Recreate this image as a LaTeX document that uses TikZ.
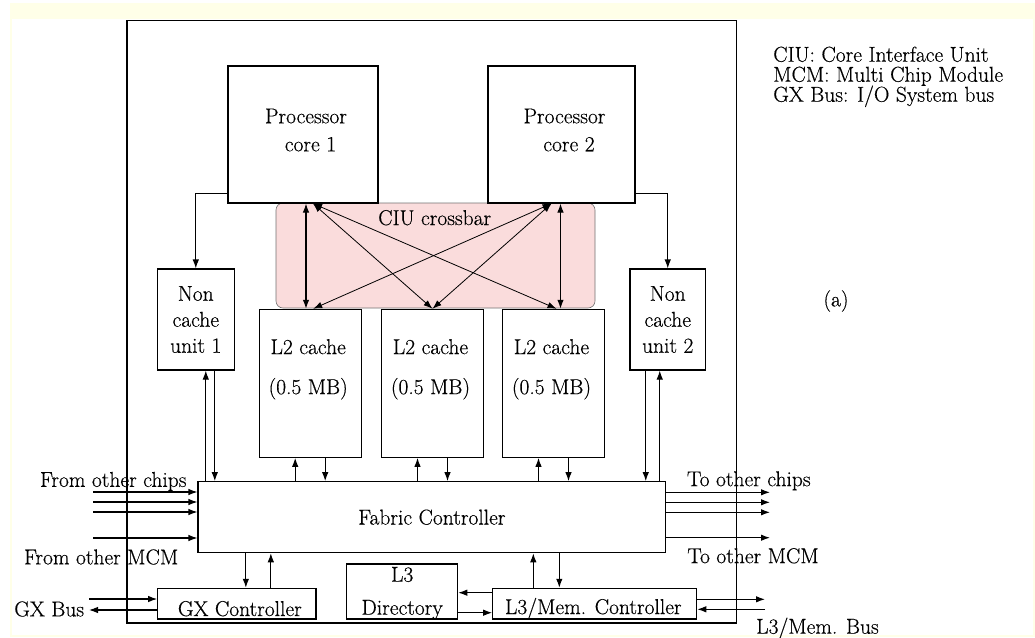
\documentclass[tikz,border=0pt]{standalone}
\usepackage{fontspec}
\setmainfont{Latin Modern Roman}[BoldFont={Latin Modern Roman},BoldFeatures={FakeBold=0.4}]
\usetikzlibrary{arrows.meta,calc}
\definecolor{xbarpink}{RGB}{250,220,220}
\definecolor{cream}{RGB}{255,255,232}
\begin{document}
\begin{tikzpicture}[x=1pt,y=-1pt,line width=1.1pt,
  every node/.style={font=\fontsize{21.5}{26}\selectfont\bfseries},
  box/.style={draw,fill=white,inner sep=0pt,align=center},
  txt/.style={inner sep=0pt,align=center},
  arr/.style={-{Latex[length=9pt,width=6.5pt]}},
  darr/.style={{Latex[length=9pt,width=6.5pt]}-{Latex[length=9pt,width=6.5pt]}},
  thinarr/.style={darr,line width=0.8pt}]
% background
\fill[white] (0,0) rectangle (1035,637);
\fill[cream] (10,3) rectangle (1035,19);
\draw[cream,line width=1.5pt] (11,19) -- (11,636) -- (1034,636) -- (1034,19);
\useasboundingbox (0,0) rectangle (1035,637);
% chip frame
\node[draw,inner sep=0pt,minimum width=609.5pt,minimum height=602.3pt] (chip) at (431.75,321.85) {};
% crossbar
\node[draw=black!55,line width=0.6pt,fill=xbarpink,rounded corners=7pt,inner sep=0pt,
      minimum width=319pt,minimum height=105pt] (xbar) at (435.5,255.5) {};
\node[txt] (xbart) at (434.7,217.7) {CIU crossbar};
% cores
\node[box,minimum width=150pt,minimum height=137pt] (core1) at (303,134.5) {};
\node[txt] (core1t) at ($(core1.center)+(3,-4.5)$) {Processor\\[2pt]\hspace*{9pt}core 1};
\node[box,minimum width=147pt,minimum height=137pt] (core2) at (561.5,134.5) {};
\node[txt] (core2t) at ($(core2.center)+(3,-4.5)$) {Processor\\[2pt]\hspace*{9pt}core 2};
% L2 caches
\node[box,minimum width=101.7pt,minimum height=148pt] (cache1) at (310.2,383.3) {};
\node[box,minimum width=101.7pt,minimum height=148pt] (cache2) at (432.5,383.3) {};
\node[box,minimum width=101.7pt,minimum height=148pt] (cache3) at (553.5,383.3) {};
\foreach \c in {cache1,cache2,cache3}
  \node[txt] (\c t) at ($(\c.center)+(-2,-14)$) {L2 cache\\[14pt](0.5 MB)};
% non cache units
\node[box,minimum width=77pt,minimum height=101pt] (ncu1) at (195.8,319.5) {Non\\cache\\unit 1};
\node[box,minimum width=75.5pt,minimum height=101pt] (ncu2) at (667.75,319.5) {Non\\cache\\unit 2};
% fabric controller
\node[box,minimum width=467.7pt,minimum height=71pt] (fc) at (431.85,517.2) {Fabric Controller};
% bottom row
\node[box,minimum width=158.3pt,minimum height=30.7pt] (gx) at (236.85,603.65) {};
\node[txt] (gxt) at ($(gx.center)+(3,5)$) {GX Controller};
\node[box,minimum width=111pt,minimum height=55pt] (l3dir) at (402.2,591.5) {};
\node[txt] (l3dirt) at ($(l3dir.center)+(0,1.5)$) {L3\\[7pt]Directory};
\node[box,minimum width=204pt,minimum height=30.7pt] (l3mem) at (594.7,603.65) {};
\node[txt] (l3memt) at ($(l3mem.center)+(-1.4,5)$) {L3/Mem. Controller};
% core -> non cache units
\draw[arr] ([yshift=10pt]core1.south west) -| (ncu1.north);
\draw[arr] ([yshift=10pt]core2.south east) -| (ncu2.north);
% crossbar connections
\draw[darr] ([xshift=3pt]core1.south) -- ([xshift=-4.2pt]cache1.north);
\draw[thinarr] ([xshift=10pt]core1.south) -- (cache2.north);
\draw[thinarr] ([xshift=10pt]core1.south) -- ([xshift=3pt]cache3.north);
\draw[thinarr] ([xshift=-10pt]core2.south) -- ([xshift=3pt]cache1.north);
\draw[thinarr] ([xshift=-10pt]core2.south) -- (cache2.north);
\draw[darr] ([xshift=-1pt]core2.south) -- ([xshift=7pt]cache3.north);
% caches <-> fabric controller
\foreach \c in {cache1,cache2,cache3}{
  \draw[arr] ([xshift=-15pt]\c.south |- fc.north) -- ([xshift=-15pt]\c.south);
  \draw[arr] ([xshift=15pt]\c.south) -- ([xshift=15pt]\c.south |- fc.north);
}
% non cache units <-> fabric controller
\draw[arr] ([xshift=10pt]ncu1.south |- fc.north) -- ([xshift=10pt]ncu1.south);
\draw[arr] ([xshift=19pt]ncu1.south) -- ([xshift=19pt]ncu1.south |- fc.north);
\draw[arr] ([xshift=-22pt]ncu2.south) -- ([xshift=-22pt]ncu2.south |- fc.north);
\draw[arr] ([xshift=-8pt]ncu2.south |- fc.north) -- ([xshift=-8pt]ncu2.south);
% inputs / outputs of fabric controller
\coordinate (in1) at (93,492);
\coordinate (in2) at (93,502);
\coordinate (in3) at (93,512);
\coordinate (in4) at (93,538);
\coordinate (out1) at (770,492.3);
\coordinate (out2) at (770,502.3);
\coordinate (out3) at (770,512.3);
\coordinate (out4) at (770,537.7);
\foreach \i in {1,...,4}{
  \draw[arr] (in\i) -- (in\i -| fc.west);
  \draw[arr] (out\i -| fc.east) -- (out\i);
}
% GX controller
\draw[arr] ([xshift=9pt]gx.north |- fc.south) -- ([xshift=9pt]gx.north);
\draw[arr] ([xshift=34pt]gx.north) -- ([xshift=34pt]gx.north |- fc.south);
\coordinate (gxb1) at (89,599);
\coordinate (gxb2) at (89,610);
\draw[arr] (gxb1) -- (gxb1 -| gx.west);
\draw[arr] (gxb2 -| gx.west) -- (gxb2);
% L3 directory <-> L3/Mem controller
\coordinate (d1) at (475,592.7);
\coordinate (d2) at (475,612.7);
\draw[arr] (d1 -| l3mem.west) -- (d1 -| l3dir.east);
\draw[arr] (d2 -| l3dir.east) -- (d2 -| l3mem.west);
% fabric controller <-> L3/Mem controller
\draw[arr] ([xshift=-61.4pt]l3mem.north) -- ([xshift=-61.4pt]l3mem.north |- fc.south);
\draw[arr] ([xshift=-35.4pt]l3mem.north |- fc.south) -- ([xshift=-35.4pt]l3mem.north);
% L3/Mem bus
\coordinate (mb1) at (765,599.3);
\coordinate (mb2) at (765,609.3);
\draw[arr] (mb1 -| l3mem.east) -- (mb1);
\draw[arr] (mb2) -- (mb2 -| l3mem.east);
% labels
\node[txt] (fromchips) at (113.3,481.5) {From other chips};
\node[txt] (frommcm) at (101.2,557) {From other MCM};
\node[txt] (tochips) at (748.8,480.8) {To other chips};
\node[txt] (tomcm) at (753,555.8) {To other MCM};
\node[txt] (gxbus) at (49.2,609) {GX Bus};
\node[txt] (membus) at (817.5,628.3) {L3/Mem. Bus};
\node[txt] (lbla) at (836,301) {(a)};
\node[anchor=base west,inner sep=0pt] (leg1) at (772.7,61.7) {CIU: Core Interface Unit};
\node[anchor=base west,inner sep=0pt] (leg2) at (772.7,81.7) {MCM: Multi Chip Module};
\node[anchor=base west,inner sep=0pt] (leg3) at (772.7,101.7) {GX Bus: I/O System bus};
\end{tikzpicture}
\end{document}
